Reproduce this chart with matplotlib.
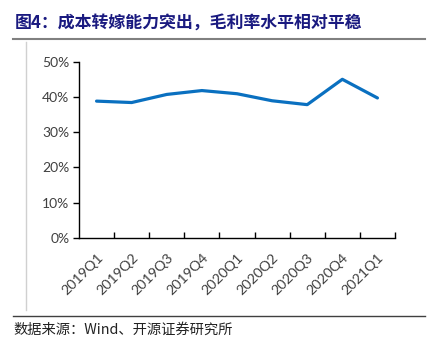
import matplotlib.pyplot as plt
from matplotlib.lines import Line2D
from matplotlib.ticker import FixedLocator, PercentFormatter

# data
quarters = ["2019Q1", "2019Q2", "2019Q3", "2019Q4", "2020Q1",
            "2020Q2", "2020Q3", "2020Q4", "2021Q1"]
gross_margin = [0.388, 0.384, 0.407, 0.418, 0.409, 0.389, 0.378, 0.450, 0.397]

title_text = "图4：成本转嫁能力突出，毛利率水平相对平稳"
source_text = "数据来源：Wind、开源证券研究所"

plt.rcParams['font.family'] = ['Noto Sans CJK SC', 'DejaVu Sans']

W, H = 445, 346
fig = plt.figure(figsize=(W / 100, H / 100), dpi=100)

# axes box in pixel terms
left, right, bottom, top = 79, 395, 237.7, 61.7
ax = fig.add_axes([left / W, 1 - bottom / H, (right - left) / W, (bottom - top) / H])

x = range(len(quarters))
ax.plot(x, gross_margin, color="#0A70C0", lw=2.3, solid_capstyle="round",
        solid_joinstyle="round")

ax.set_xlim(-0.5, len(quarters) - 0.5)
ax.set_ylim(0, 0.5)
ax.set_yticks([0, 0.1, 0.2, 0.3, 0.4, 0.5])
ax.yaxis.set_major_formatter(PercentFormatter(1.0, decimals=0))

ax.set_xticks(list(x))
ax.set_xticklabels(quarters, rotation=45, ha="right", rotation_mode="anchor")
ax.xaxis.set_minor_locator(FixedLocator([i + 0.5 for i in x]))
ax.tick_params(axis="x", which="major", length=0, pad=10)
ax.tick_params(axis="x", which="minor", direction="in", length=4, width=1, color="black")
ax.tick_params(axis="y", direction="out", length=4, width=1, color="black", pad=3)

for lab in ax.get_xticklabels() + ax.get_yticklabels():
    lab.set_family(["Lato", "DejaVu Sans"])
    lab.set_color("#404040")
    lab.set_fontsize(10.3)
for lab in ax.get_yticklabels():
    lab.set_fontsize(10)

for s in ["top", "right"]:
    ax.spines[s].set_visible(False)
ax.spines["left"].set_color("black")
ax.spines["bottom"].set_color("black")
ax.spines["left"].set_linewidth(1)
ax.spines["bottom"].set_linewidth(1)

# title and frame lines
fig.text(15 / W, 1 - 24 / H, title_text, fontsize=12.2, fontweight="bold",
         color="#1A1A80", va="center", ha="left")
fig.add_artist(Line2D([13 / W, 425 / W], [1 - 38.5 / H, 1 - 38.5 / H],
                      color="#808080", lw=1.5))
fig.add_artist(Line2D([25.5 / W, 25.5 / W], [1 - 42 / H, 1 - 310 / H],
                      color="#D0D0D0", lw=1))
fig.add_artist(Line2D([13 / W, 425 / W], [1 - 316 / H, 1 - 316 / H],
                      color="#404040", lw=1))
fig.text(13 / W, 1 - 330 / H, source_text, fontsize=10.3, color="#222222",
         va="center", ha="left")

fig.savefig("out.png", dpi=100)
